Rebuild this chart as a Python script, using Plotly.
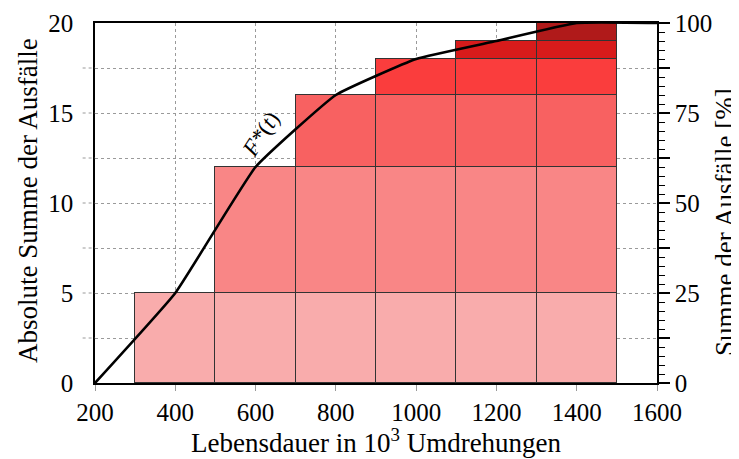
import plotly.graph_objects as go

# Data
class_centers = [400, 600, 800, 1000, 1200, 1400]          # 10^3 revolutions
failures_per_class = [5, 7, 4, 2, 1, 1]                      # new failures per class
layer_colors = ["#F9ACAC", "#F98686", "#F86161", "#FA3D3D", "#D81B1B", "#B01A1A"]
curve_x = [200, 400, 600, 800, 1000, 1200, 1400, 1600]
curve_y = [0, 5, 12, 16, 18, 19, 20, 20]
x_ticks = [200, 400, 600, 800, 1000, 1200, 1400, 1600]
left_ticks = [0, 5, 10, 15, 20]
right_ticks = [0, 12.5, 25, 37.5, 50, 62.5, 75, 87.5, 100]
right_labels = ["0", "", "25", "", "50", "", "75", "", "100"]

FONT = "Liberation Serif"
TICK = 25
TITLE = 27
fig = go.Figure()

# stacked layers: layer k starts in class k and continues in all later classes
for k, (n, col) in enumerate(zip(failures_per_class, layer_colors)):
    xs = class_centers[k:]
    fig.add_trace(go.Bar(
        x=xs, y=[n] * len(xs), width=200,
        marker=dict(color=col, line=dict(color="#333333", width=1.2)),
        showlegend=False, hoverinfo="skip",
    ))

fig.add_trace(go.Scatter(
    x=curve_x, y=curve_y, mode="lines",
    line=dict(color="black", width=2.6, shape="spline", smoothing=0.35),
    showlegend=False,
))

# invisible trace for the right axis
fig.add_trace(go.Scatter(x=[200, 1600], y=[0, 100], yaxis="y2", mode="lines",
                         line=dict(color="rgba(0,0,0,0)"), showlegend=False, hoverinfo="skip"))

# dotted grid extensions to the left of the plot
for v in [2.5, 5, 7.5, 10, 12.5, 15, 17.5]:
    fig.add_shape(type="line", xref="paper", yref="y", x0=-0.022, x1=0, y0=v, y1=v,
                  line=dict(color="#9a9a9a", width=1, dash="dot"))

fig.add_annotation(x=613, y=13.8, text="<i>F*</i>(<i>t</i>)", showarrow=False,
                   textangle=-57, font=dict(family=FONT, size=23, color="black"))

# axis titles
fig.add_annotation(xref="paper", yref="paper", x=0, y=0.5, xshift=-67, yshift=2,
                   text="Absolute Summe der Ausfälle", textangle=-90, showarrow=False,
                   xanchor="center", yanchor="middle", font=dict(size=TITLE))
fig.add_annotation(xref="paper", yref="paper", x=1, y=0.5, xshift=68, yshift=-19,
                   text="Summe der Ausfälle [%]", textangle=-90, showarrow=False,
                   xanchor="center", yanchor="middle", font=dict(size=TITLE))
fig.add_annotation(xref="paper", yref="paper", x=0.5, y=0, yshift=-58,
                   text="Lebensdauer in 10<sup>3</sup> Umdrehungen", showarrow=False,
                   xanchor="center", yanchor="middle", font=dict(size=TITLE))

# the page adds an 8px body margin at left/top, so the figure is 8px smaller
fig.update_layout(
    width=731, height=451,
    margin=dict(l=87, r=82, t=15, b=76, autoexpand=False),
    plot_bgcolor="white", paper_bgcolor="white",
    barmode="stack", bargap=0,
    font=dict(family=FONT, size=TICK, color="black"),
    xaxis=dict(
        range=[200, 1600], tickvals=x_ticks, ticks="outside", ticklen=6,
        tickcolor="#9a9a9a", showgrid=True, gridcolor="#9a9a9a", griddash="dot",
        gridwidth=1, showline=True, linecolor="black", linewidth=1.8, mirror=True,
        zeroline=False, tickfont=dict(size=TICK), automargin=False,
    ),
    yaxis=dict(
        range=[0, 20], tickvals=left_ticks, ticks="", showgrid=True,
        gridcolor="#9a9a9a", griddash="dot", gridwidth=1,
        minor=dict(dtick=2.5, showgrid=True, gridcolor="#9a9a9a", griddash="dot"),
        showline=True, linecolor="black", linewidth=1.5, zeroline=False,
        ticklabelstandoff=15, tickfont=dict(size=TICK), automargin=False,
    ),
    yaxis2=dict(
        range=[0, 100], overlaying="y", side="right", tickvals=right_ticks,
        ticktext=right_labels, ticks="outside", ticklen=11, tickwidth=1.5,
        tickcolor="black", showgrid=False, zeroline=False,
        minor=dict(dtick=2.5, ticks="outside", ticklen=6, tickcolor="black", tickwidth=1.2),
        showline=True, linecolor="black", linewidth=1.5, tickfont=dict(size=TICK),
        automargin=False,
    ),
)

fig.write_html("out.html")
